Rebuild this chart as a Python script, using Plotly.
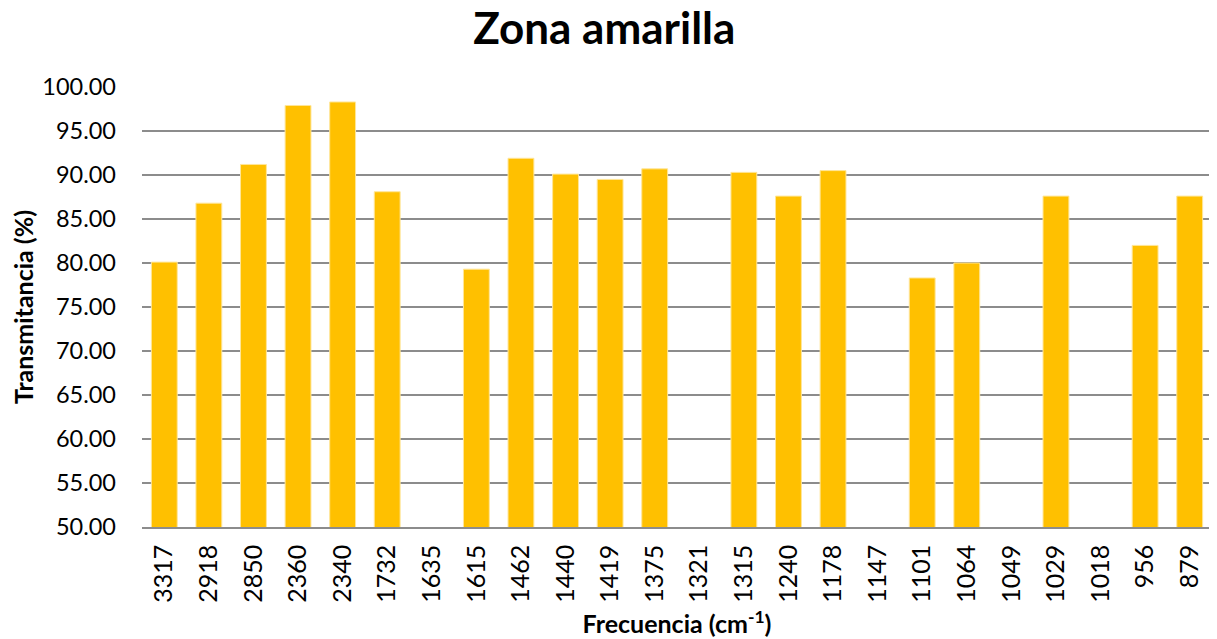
import plotly.graph_objects as go

categories = ["3317", "2918", "2850", "2360", "2340", "1732", "1635", "1615", "1462", "1440",
              "1419", "1375", "1321", "1315", "1240", "1178", "1147", "1101", "1064", "1049",
              "1029", "1018", "956", "879"]
transmitancia = [80.1, 86.8, 91.2, 97.9, 98.3, 88.1, None, 79.3, 91.9, 90.1,
                 89.5, 90.7, None, 90.3, 87.6, 90.5, None, 78.3, 80.0, None,
                 87.6, None, 82.0, 87.6]
y_ticks = [50, 55, 60, 65, 70, 75, 80, 85, 90, 95, 100]

FONT = "Lato"

fig = go.Figure(go.Bar(
    x=categories, y=transmitancia,
    marker=dict(color="#FFC000", line=dict(color="#FFE699", width=1)),
))

# page body has an 8px default margin, so the figure is offset by (8, 8)
fig.update_layout(
    width=1217, height=639,
    paper_bgcolor="white", plot_bgcolor="white",
    margin=dict(l=134, r=13, t=79, b=120),
    bargap=0.42,
    showlegend=False,
    font=dict(family=FONT, color="#000000"),
    title=dict(text="<b>Zona amarilla</b>", x=0.49, xanchor="center", xref="container",
               y=0.968, yanchor="middle", yref="container",
               font=dict(size=44, family=FONT, color="#000000")),
    xaxis=dict(
        type="category", tickangle=-90, tickfont=dict(size=25, family=FONT),
        showline=True, linecolor="#8C8C8C", linewidth=1.5, ticks="",
        showgrid=False, automargin=False, ticklabelstandoff=6,
        title=dict(text="<b>Frecuencia (cm<sup>-1</sup>)</b>", font=dict(size=25, family=FONT), standoff=14),
    ),
    yaxis=dict(
        range=[50, 100], tickvals=y_ticks, ticktext=[f"{v:.2f}" for v in y_ticks],
        tickfont=dict(size=23.5, family=FONT), showgrid=True, gridcolor="#8C8C8C", gridwidth=1.5,
        zeroline=False, showline=False, ticks="", ticklabelstandoff=25, automargin=False,
        title=dict(text="<b>Transmitancia (%)</b>", font=dict(size=25, family=FONT), standoff=12),
    ),
)

fig.write_html("out.html")
